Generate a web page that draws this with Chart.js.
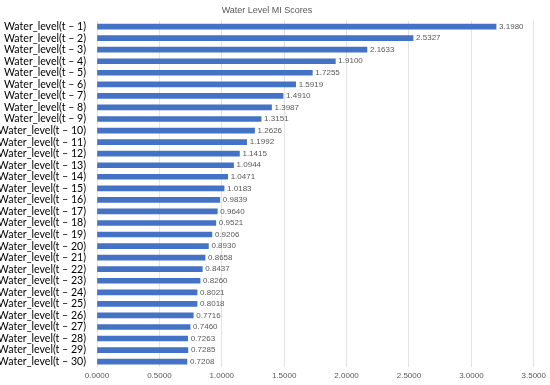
<!DOCTYPE html>
<html><head><meta charset="utf-8">
<script src="https://cdn.jsdelivr.net/npm/chart.js@4/dist/chart.umd.min.js"></script>
<style>html,body{margin:0;padding:0;background:#fff}#wrap{width:550px;height:385px}</style>
</head><body><div id="wrap"><canvas id="c" width="550" height="385"></canvas></div>
<script>
const lags = Array.from({length:30},(_,i)=>i+1);
const categories = lags.map(n => "Water_level(t \u2013 " + n + ")");
const miScores = [3.1980,2.5327,2.1633,1.9100,1.7255,1.5919,1.4910,1.3987,1.3151,1.2626,
  1.1992,1.1415,1.0944,1.0471,1.0183,0.9839,0.9640,0.9521,0.9206,0.8930,
  0.8658,0.8437,0.8260,0.8021,0.8018,0.7716,0.7460,0.7263,0.7285,0.7208];
const xTicks = [0,0.5,1,1.5,2,2.5,3,3.5];

const valueLabels = {
  id:'valueLabels',
  afterDatasetsDraw(chart){
    const ctx = chart.ctx;
    const meta = chart.getDatasetMeta(0);
    ctx.save();
    ctx.font = '8px "Liberation Sans", Arial, sans-serif';
    ctx.fillStyle = '#595959';
    ctx.textAlign = 'left';
    ctx.textBaseline = 'middle';
    meta.data.forEach((el,i)=>{
      ctx.fillText(miScores[i].toFixed(4), el.x + 3, el.y);
    });
    ctx.restore();
  }
};

new Chart(document.getElementById('c'), {
  type:'bar',
  data:{labels:categories, datasets:[{data:miScores, backgroundColor:'#4472C4', barThickness:5}]},
  options:{
    indexAxis:'y', responsive:false, animation:false,
    layout:{padding:{top:4,right:16,left:0,bottom:0}},
    plugins:{
      legend:{display:false}, tooltip:{enabled:false},
      title:{display:true, text:'Water Level MI Scores', color:'#595959',
        font:{family:'"Liberation Sans", Arial, sans-serif', size:9, weight:'normal'}, padding:{top:1,bottom:5}}
    },
    scales:{
      x:{min:0,max:3.5,
        afterBuildTicks(s){ s.ticks = xTicks.map(v=>({value:v})); },
        ticks:{color:'#595959', font:{family:'"Liberation Sans", Arial, sans-serif', size:8},
          callback:(v)=>Number(v).toFixed(4), maxRotation:0, padding:4},
        grid:{color:'#e3e3e3', drawTicks:false}, border:{display:false}},
      y:{
        afterFit(s){ s.width = 97; },
        ticks:{color:'#000', font:{family:'Lato, sans-serif', size:10.6}, padding:3, autoSkip:false},
        grid:{display:false}, border:{display:false}}
    }
  },
  plugins:[valueLabels]
});
</script></body></html>
